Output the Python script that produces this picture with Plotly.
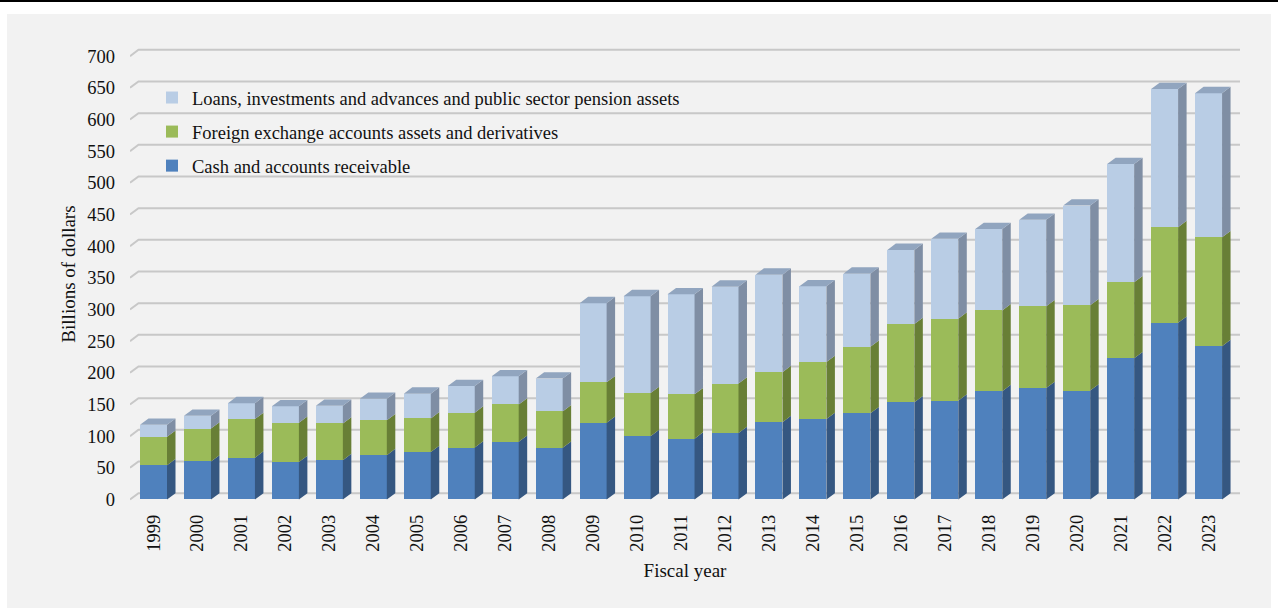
import plotly.graph_objects as go

# Fiscal years and asset components (billions of dollars)
years = [str(y) for y in range(1999, 2024)]
cash = [54, 60, 66, 59, 62, 70, 75, 82, 91, 81.5, 121, 100, 96, 105, 122,
        127, 136, 153.5, 156, 171, 176, 172, 223, 279, 242]
fx = [45, 52, 61, 62, 58, 55, 53, 55, 59, 57.5, 64, 68, 70, 78, 79,
      90, 105, 123.5, 129.5, 127.5, 129, 134.5, 120, 151, 172]
loans = [19, 20, 25, 26, 28, 34, 39, 42, 44.5, 52, 125, 153, 158, 153, 154,
         119.5, 115.5, 117, 126, 128.5, 136.5, 157.5, 186.5, 218, 227.5]
y_ticks = list(range(0, 701, 50))

# name, values, front colour, side colour, legend rank
series = [
    ("Cash and accounts receivable", cash, "#4f81bd", "#355781", 3),
    ("Foreign exchange accounts assets and derivatives", fx, "#9bbb59", "#687f36", 2),
    ("Loans, investments and advances and public sector pension assets", loans, "#b9cde5", "#7f8ea4", 1),
]
top_color = "#91a5bf"

FONT = "Liberation Serif"
W, H = 1278, 610
ML, MR, MT, MB = 130, 38, 46, 108
X_RANGE = [-0.535, 24.715]
Y_RANGE = [-4, 716]
BAR_W = 0.614      # front face width in category units
DX = 0.193         # depth offset (x, category units)
DY = 10.0          # depth offset (y, value units)

xs = list(range(len(years)))
fig = go.Figure()

# front faces
for name, vals, front, side, rank in series:
    fig.add_trace(go.Bar(
        x=xs, y=vals, name=name, width=BAR_W,
        marker=dict(color=front, line=dict(width=0)),
        legendgroup=name, legendrank=rank, hoverinfo="skip",
    ))

# side faces (parallelograms) for every segment
base = [0.0] * len(years)
for name, vals, front, side, rank in series:
    px_, py_ = [], []
    for i, v in enumerate(vals):
        xr = i + BAR_W / 2
        y0, y1 = base[i], base[i] + v
        px_ += [xr, xr + DX, xr + DX, xr, xr, None]
        py_ += [y0, y0 + DY, y1 + DY, y1, y0, None]
        base[i] = y1
    fig.add_trace(go.Scatter(
        x=px_, y=py_, mode="lines", fill="toself", fillcolor=side,
        line=dict(width=0, color=side), showlegend=False, hoverinfo="skip",
    ))

# top faces of the stacks
tx, ty = [], []
for i, t in enumerate(base):
    xl, xr = i - BAR_W / 2, i + BAR_W / 2
    tx += [xl, xl + DX, xr + DX, xr, xl, None]
    ty += [t, t + DY, t + DY, t, t, None]
fig.add_trace(go.Scatter(
    x=tx, y=ty, mode="lines", fill="toself", fillcolor=top_color,
    line=dict(width=0, color=top_color), showlegend=False, hoverinfo="skip",
))

shapes = []
plot_w = W - ML - MR
plot_h = H - MT - MB


def px_x(p):
    return (p - ML) / plot_w


def px_y(p):
    return (H - MB - p) / plot_h


# chart panel and the rule along the top edge
shapes.append(dict(type="rect", xref="paper", yref="paper", layer="below",
                   x0=px_x(7), x1=px_x(1271), y0=px_y(608), y1=px_y(14),
                   fillcolor="#f2f2f2", line=dict(width=0)))
shapes.append(dict(type="rect", xref="paper", yref="paper", layer="above",
                   x0=px_x(0), x1=px_x(W), y0=px_y(2), y1=px_y(0),
                   fillcolor="#000000", line=dict(width=0)))

# back-wall gridlines with a short floor edge on the left
for v in y_ticks:
    x0 = X_RANGE[0]
    shapes.append(dict(
        type="path", xref="x", yref="y", layer="below",
        path=f"M {x0},{v} L {x0 + DX},{v + DY} L {X_RANGE[1]},{v + DY}",
        line=dict(color="#c8c8c8", width=2),
    ))

fig.update_layout(
    width=W, height=H,
    margin=dict(l=ML, r=MR, t=MT, b=MB),
    barmode="stack",
    paper_bgcolor="#ffffff",
    plot_bgcolor="rgba(0,0,0,0)",
    font=dict(family=FONT, size=19, color="#111111"),
    shapes=shapes,
    showlegend=True,
    legend=dict(
        x=px_x(152), y=px_y(79), xanchor="left", yanchor="top",
        traceorder="grouped", tracegroupgap=7,
        bgcolor="rgba(0,0,0,0)", font=dict(family=FONT, size=18.5),
    ),
    xaxis=dict(
        range=X_RANGE, tickmode="array", tickvals=xs, ticktext=years,
        tickangle=-90, showgrid=False, zeroline=False, showline=False,
        ticks="", ticklabelstandoff=8, tickfont=dict(size=18.5),
        title=dict(text="Fiscal year", font=dict(size=19), standoff=12),
    ),
    yaxis=dict(
        range=Y_RANGE, tickmode="array", tickvals=y_ticks,
        ticktext=[str(v) for v in y_ticks],
        showgrid=False, zeroline=False, showline=False,
        ticks="", ticklabelstandoff=14, tickfont=dict(size=18.5),
        title=dict(text="Billions of dollars", font=dict(size=19), standoff=6),
    ),
)

fig.write_html("out.html")
